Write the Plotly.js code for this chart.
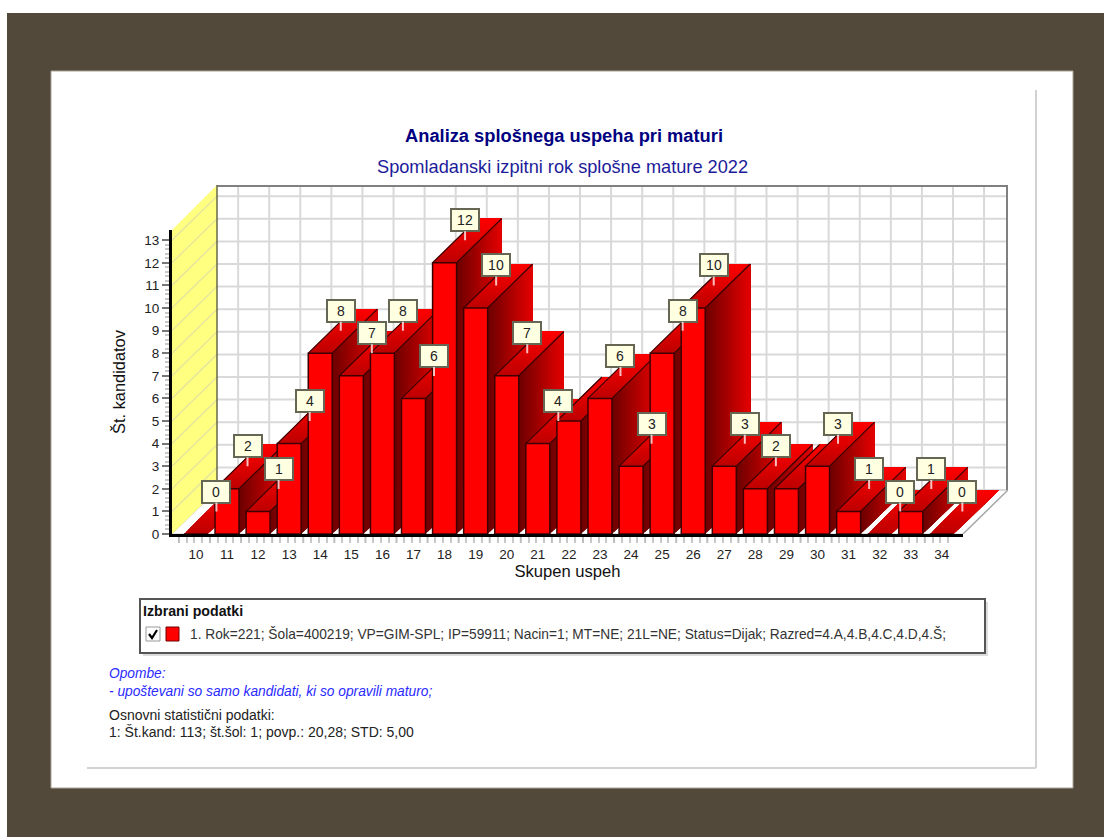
<!DOCTYPE html>
<html>
<head>
<meta charset="utf-8">
<script src="https://cdn.plot.ly/plotly-3.0.1.min.js"></script>
<style>html,body{margin:0;padding:0;background:#fff;overflow:hidden}#chart{width:1104px;height:837px}</style>
</head>
<body>
<div id="chart"></div>
<script>
const categories = [10,11,12,13,14,15,16,17,18,19,20,21,22,23,24,25,26,27,28,29,30,31,32,33,34];
const values     = [0,2,1,4,8,7,8,6,12,10,7,4,5,6,3,8,10,3,2,2,3,1,0,1,0];
const unlabelled = [22,29];
const yTicks     = [0,1,2,3,4,5,6,7,8,9,10,11,12,13];
const chartTitle = "Analiza splošnega uspeha pri maturi";
const chartSubtitle = "Spomladanski izpitni rok splošne mature 2022";
const xTitle = "Skupen uspeh";
const yTitle = "Št. kandidatov";
const legendHeading = "Izbrani podatki";
const legendEntry = "1. Rok=221; Šola=400219; VP=GIM-SPL; IP=59911; Nacin=1; MT=NE; 21L=NE; Status=Dijak; Razred=4.A,4.B,4.C,4.D,4.Š;";
const noteLines = ["Opombe:", "- upoštevani so samo kandidati, ki so opravili maturo;"];
const statLines = ["Osnovni statistični podatki:", "1: Št.kand: 113; št.šol: 1; povp.: 20,28; STD: 5,00"];

const W = 1104, H = 837, FONT = '"Liberation Sans", Arial, sans-serif';
const px = x => x / W, py = y => 1 - y / H;

// plot geometry (px)
const L = 172, Rf = 963, Rb = 1008, B = 534, Tf = 230, Tb = 185;
const xMin = 9.23, yMax = 13.45, xMaxF = 34.68;
const pxPerX = (Rf - L) / (xMaxF - xMin), pxPerY = (B - Tf) / yMax;
const dx = (Rb - Rf) / pxPerX, dy = 44 / pxPerY;
const halfW = 0.386;
const xMaxB = xMin + (Rb - L) / pxPerX, yMaxB = (B - Tb) / pxPerY;

const shapes = [];
const rect = (x0,y0,x1,y1,fill,line,lw) => shapes.push({type:'rect',xref:'paper',yref:'paper',layer:'below',
  x0:px(x0),x1:px(x1),y0:py(y0),y1:py(y1),fillcolor:fill,line:{color:line||fill,width:lw===undefined?0:lw}});
const pline = (x0,y0,x1,y1,c,w) => shapes.push({type:'line',xref:'paper',yref:'paper',layer:'below',
  x0:px(x0),x1:px(x1),y0:py(y0),y1:py(y1),line:{color:c,width:w}});

// page furniture
rect(7,13,W,H,'#52493a');
rect(51,71,1073,788,'#ffffff','#a8a498',1);
pline(1036,90,1036,768,'#d2d2d2',2);
pline(87,768,1036,768,'#d2d2d2',2);
// legend box
rect(143,602,988,656,'#dddddd');
rect(140,599,985,653,'#ffffff','#555555',2);
rect(146,627,160,641,'#ffffff','#999999',1);
shapes.push({type:'path',xref:'paper',yref:'paper',layer:'below',
  path:`M ${px(149)} ${py(634)} L ${px(152)} ${py(638)} L ${px(157)} ${py(630)}`,line:{color:'#000',width:2.2}});
rect(166,627,179,641,'#ff0000','#700000',1);

// depth geometry in data units on the hidden axes
const poly = (pts, fill, line, lw) => shapes.push({type:'path',xref:'x',yref:'y',layer:'below',
  path:'M ' + pts.map(p=>p[0]+','+p[1]).join(' L ') + ' Z',
  fillcolor:fill, line:{color:line||fill,width:lw===undefined?1:lw}});
const seg = (x0,y0,x1,y1,c,w) => shapes.push({type:'line',xref:'x',yref:'y',layer:'below',x0,x1,y0,y1,line:{color:c,width:w}});

// floor, back wall, side wall
poly([[xMin,0],[xMaxF,0],[xMaxF+dx,dy],[xMin+dx,dy]],'#ffffff','#c8c8c8',1);
poly([[xMin+dx,dy],[xMaxB,dy],[xMaxB,yMaxB],[xMin+dx,yMaxB]],'#ffffff','#ffffff',0);
yTicks.forEach(v => seg(xMin+dx, v+dy, xMaxB, v+dy, '#d9d9d9', 2));
categories.forEach(c => seg(c+dx-0.09, dy, c+dx-0.09, yMaxB, '#d9d9d9', 2));
seg(xMin+dx,yMaxB,xMaxB,yMaxB,'#808080',4);
seg(xMaxB,dy,xMaxB,yMaxB,'#808080',4);
seg(xMaxF,0,xMaxB,dy,'#a8a8a8',1.5);
poly([[xMin,0],[xMin+dx,dy],[xMin+dx,yMaxB],[xMin,yMax]],'#ffff80','#ffff80',0);
yTicks.forEach(v => { if(v>0) seg(xMin, v, xMin+dx, v+dy, '#e6e69c', 1.5); });
seg(xMin+dx,dy,xMin+dx,yMaxB,'#66664a',1.5);

// side and top faces: stepped gradients painted front to back, each step covering the rest of the face
const mix = (a,b,t) => `rgb(${Math.round(a[0]+(b[0]-a[0])*t)},${Math.round(a[1]+(b[1]-a[1])*t)},${Math.round(a[2]+(b[2]-a[2])*t)})`;
const N = 22;
categories.forEach((c,i) => {
  const v = values[i], xl = c-halfW, xr = c+halfW;
  for (let s=0;s<N;s++){
    const a=s/N,col=mix([190,0,0],[255,0,0],a);
    poly([[xl+dx*a,v+dy*a],[xr+dx*a,v+dy*a],[xr+dx,v+dy],[xl+dx,v+dy]],col,col,0);
  }
  if (v>0){
    for (let s=0;s<N;s++){
      const a=s/N,col=mix([110,0,0],[232,0,0],a);
      poly([[xr+dx*a,dy*a],[xr+dx,dy],[xr+dx,v+dy],[xr+dx*a,v+dy*a]],col,col,0);
    }
    const edge='#3c0000';
    seg(xl,v,xl+dx,v+dy,edge,1.2);
    seg(xr,v,xr+dx,v+dy,edge,1.2);
  }
});

// long x ticks at category edges; short ticks every quarter
const edgeTicks = categories.map(c=>c-0.547);
edgeTicks.forEach(e => shapes.push({type:'line',xref:'x2',yref:'paper',layer:'below',x0:e,x1:e,
  y0:py(B+1),y1:py(B+9),line:{color:'#bdbdbd',width:2}}));
const xMinor = [];
edgeTicks.forEach(e => [0.25,0.5,0.75].forEach(f => xMinor.push(e+f)));
const yMinor = [];
yTicks.slice(0,-1).forEach(v => [0.2,0.4,0.6,0.8].forEach(f => yMinor.push(v+f)));

// annotations
const annotations = [];
const note = (x,y,text,size,color,extra) => annotations.push(Object.assign({xref:'paper',yref:'paper',x:px(x),y:py(y),
  xanchor:'left',yanchor:'middle',showarrow:false,text,font:{family:FONT,size,color}},extra||{}));
annotations.push({xref:'paper',yref:'paper',x:px(562),y:py(167),xanchor:'center',yanchor:'middle',showarrow:false,
  text:chartSubtitle,font:{family:FONT,size:18.2,color:'#1c1c9a'}});
note(141,611,'<b>'+legendHeading+'</b>',14.2,'#111');
note(188,634,legendEntry,13.75,'#333');
note(107,673,'<i>'+noteLines[0]+'</i>',13.75,'#2a2aff');
note(107,691,'<i>'+noteLines[1]+'</i>',13.75,'#2a2aff');
note(107,715,statLines[0],14,'#222');
note(107,732,statLines[1],14,'#222');

// value labels with stems
categories.forEach((c,i) => {
  if (unlabelled.includes(c)) return;
  annotations.push({xref:'x2',yref:'y2',x:c,y:values[i],xshift:20.5,yshift:22.5,ax:0,ay:-20,
    showarrow:true,arrowhead:0,arrowwidth:2,arrowcolor:'rgba(255,225,225,0.85)',
    text:String(values[i]),font:{family:FONT,size:14,color:'#222'},
    bgcolor:'#ffffe2',bordercolor:'#666655',borderwidth:2,borderpad:1,width:24,height:18,align:'center',valign:'middle'});
});

const traces = [{
  type:'bar', x:categories, y:values, xaxis:'x2', yaxis:'y2',
  marker:{color:'#ff0000',line:{color:'#3c0000',width:1.5}},
  hoverinfo:'x+y', showlegend:false
}];

const layout = {
  width:W, height:H, paper_bgcolor:'#ffffff', plot_bgcolor:'rgba(0,0,0,0)',
  margin:{l:0,r:0,t:0,b:0}, showlegend:false, bargap:0.228,
  font:{family:FONT,size:12,color:'#222'},
  title:{text:'<b>'+chartTitle+'</b>',x:px(564),xanchor:'center',y:py(136),yanchor:'middle',
    font:{family:FONT,size:18.3,color:'#000080'}},
  xaxis:{domain:[px(L),px(Rb)],range:[xMin,xMaxB],visible:false,fixedrange:true,anchor:'y'},
  yaxis:{domain:[py(B),py(Tb)],range:[0,yMaxB],visible:false,fixedrange:true,anchor:'x'},
  xaxis2:{domain:[px(L),px(Rf)],range:[xMin,xMaxF],anchor:'y2',fixedrange:true,
    tickmode:'array',tickvals:categories,ticktext:categories.map(String),ticks:'',showgrid:false,zeroline:false,
    showline:true,linecolor:'#000',linewidth:3,
    tickfont:{family:FONT,size:13.5,color:'#222'},ticklabelstandoff:6,
    minor:{ticks:'outside',ticklen:6,tickwidth:2,tickcolor:'#c8c8c8',tickmode:'array',tickvals:xMinor,showgrid:false},
    title:{text:xTitle,font:{family:FONT,size:16.6,color:'#111'},standoff:3}},
  yaxis2:{domain:[py(B),py(Tf)],range:[0,yMax],anchor:'x2',fixedrange:true,
    tickmode:'array',tickvals:yTicks,ticktext:yTicks.map(String),ticks:'outside',ticklen:7,tickwidth:2,tickcolor:'#777',
    showgrid:false,zeroline:false,showline:true,linecolor:'#000',linewidth:3,
    tickfont:{family:FONT,size:13.5,color:'#222'},
    minor:{ticks:'outside',ticklen:4,tickwidth:1.5,tickcolor:'#c8c8c8',tickmode:'array',tickvals:yMinor,showgrid:false},
    title:{text:yTitle,font:{family:FONT,size:16.4,color:'#111'},standoff:15}},
  shapes, annotations
};
Plotly.newPlot('chart',traces,layout,{displayModeBar:false,responsive:false});
</script>
</body>
</html>
